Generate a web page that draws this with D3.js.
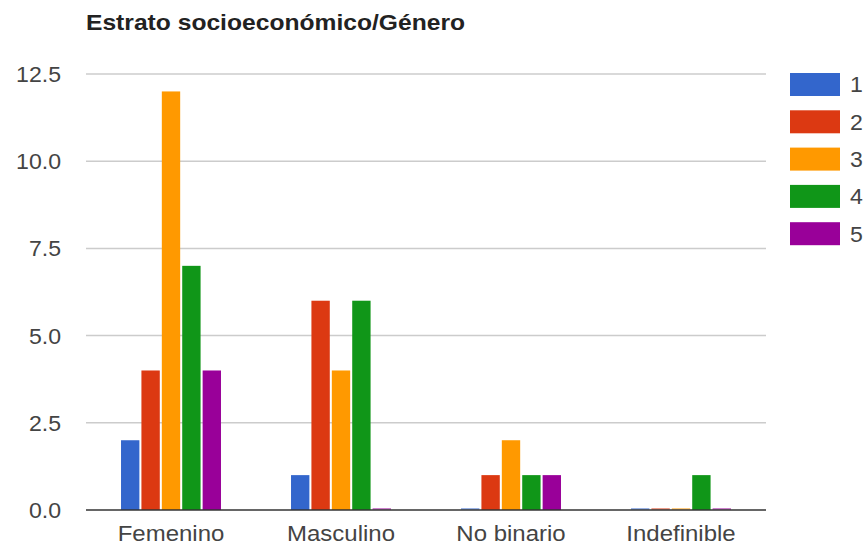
<!DOCTYPE html>
<html><head><meta charset="utf-8">
<script src="https://cdn.jsdelivr.net/npm/d3@7"></script>
<style>body{margin:0;background:#fff}svg{font-family:"Liberation Sans",Arial,sans-serif}</style>
</head><body>
<svg id="c" width="867" height="547"></svg>
<script>
const categories = ["Femenino","Masculino","No binario","Indefinible"];
const seriesNames = ["1","2","3","4","5"];
const s1 = [2,1,0,0];
const s2 = [4,6,1,0];
const s3 = [12,4,2,0];
const s4 = [7,6,1,1];
const s5 = [4,0,1,0];
const yTicks = [0,2.5,5,7.5,10,12.5];
const colors = ["#3366cc","#dc3912","#ff9900","#109618","#990099"];
const seriesVals = [s1,s2,s3,s4,s5];

(function(){
const svg = d3.select("#c");
const pL=86,pR=766,pT=74,pB=510;
const x0 = d3.scaleBand().domain(categories).range([pL,pR]).paddingInner(0.388).paddingOuter(0.194);
const x1 = d3.scaleBand().domain(seriesNames).range([0,x0.bandwidth()]).padding(0.1);
const y = d3.scaleLinear().domain([0,12.5]).range([pB,pT]);

function txt(x,yy,str,opts){
  const t = svg.append("text").attr("transform",`translate(${x},${yy}) scale(${opts.sx||1.07},1)`)
    .attr("font-size",opts.size||22).attr("fill",opts.fill||"#444").text(str);
  if(opts.anchor) t.attr("text-anchor",opts.anchor);
  if(opts.bold) t.attr("font-weight","bold");
  if(opts.dy) t.attr("dy",opts.dy);
  return t;
}

txt(86,30,"Estrato socioeconómico/Género",{size:22,bold:true,fill:"#222",sx:1.12});

yTicks.forEach(t=>{
  if(t!==0) svg.append("line").attr("x1",pL).attr("x2",pR).attr("y1",y(t)).attr("y2",y(t)).attr("stroke","#ccc").attr("stroke-width",1.5);
  txt(61,y(t),d3.format(".1f")(t),{anchor:"end",dy:"0.36em",sx:1.05});
});

const g = svg.append("g");
categories.forEach((c,ci)=>{
  seriesNames.forEach((s,si)=>{
    const v = seriesVals[si][ci];
    const h = Math.max(pB - y(v), 2);
    g.append("rect").attr("x",x0(c)+x1(s)).attr("y",pB-h).attr("width",x1.bandwidth()).attr("height",h)
      .attr("fill",colors[si]).attr("opacity", v===0?0.5:1);
  });
  txt(x0(c)+x0.bandwidth()/2,541,c,{anchor:"middle",sx:1.09});
});
svg.append("line").attr("x1",pL).attr("x2",pR).attr("y1",pB).attr("y2",pB).attr("stroke","#333").attr("stroke-width",1.5);

seriesNames.forEach((s,i)=>{
  const yy = 73 + i*37.3;
  svg.append("rect").attr("x",790).attr("y",yy).attr("width",50).attr("height",23).attr("fill",colors[i]);
  txt(850,yy+11.5,s,{dy:"0.36em",sx:1.05});
});
})();
</script>
</body></html>
